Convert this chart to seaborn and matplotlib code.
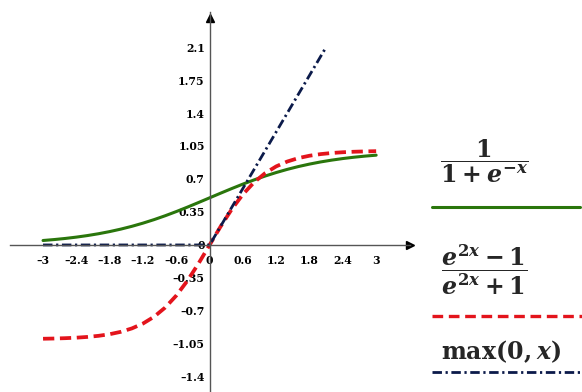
import numpy as np
import pandas as pd
import matplotlib.pyplot as plt
import seaborn as sns
from matplotlib.lines import Line2D

# values (step 0.2 on x)
x_vals = [-3.0, -2.8, -2.6, -2.4, -2.2, -2.0, -1.8, -1.6, -1.4, -1.2, -1.0,
          -0.8, -0.6, -0.4, -0.2, 0.0, 0.2, 0.4, 0.6, 0.8, 1.0,
          1.2, 1.4, 1.6, 1.8, 2.0, 2.2, 2.4, 2.6, 2.8, 3.0]
sigmoid_vals = [0.0474, 0.0573, 0.0691, 0.0832, 0.0998, 0.1192, 0.1419, 0.1680,
                0.1978, 0.2315, 0.2689, 0.3100, 0.3543, 0.4013, 0.4502, 0.5,
                0.5498, 0.5987, 0.6457, 0.6900, 0.7311, 0.7685, 0.8022, 0.8320,
                0.8581, 0.8808, 0.9002, 0.9168, 0.9309, 0.9427, 0.9526]
tanh_vals = [-0.9951, -0.9926, -0.9890, -0.9837, -0.9757, -0.9640, -0.9468, -0.9217,
             -0.8854, -0.8337, -0.7616, -0.6640, -0.5370, -0.3799, -0.1974, 0.0,
             0.1974, 0.3799, 0.5370, 0.6640, 0.7616, 0.8337, 0.8854, 0.9217,
             0.9468, 0.9640, 0.9757, 0.9837, 0.9890, 0.9926, 0.9951]
relu_x = [-3.0, 0.0, 2.1]
relu_y = [0.0, 0.0, 2.1]

x_ticks = [-3, -2.4, -1.8, -1.2, -0.6, 0, 0.6, 1.2, 1.8, 2.4, 3]
x_ticklabels = ["-3", "-2.4", "-1.8", "-1.2", "-0.6", "0", "0.6", "1.2", "1.8", "2.4", "3"]
y_ticks = [-1.4, -1.05, -0.7, -0.35, 0, 0.35, 0.7, 1.05, 1.4, 1.75, 2.1]
y_ticklabels = ["-1.4", "-1.05", "-0.7", "-0.35", "0", "0.35", "0.7", "1.05", "1.4", "1.75", "2.1"]

green = "#2a760c"
red = "#e3141c"
navy = "#0b1a4a"

sns.set_style("white")
plt.rcParams["font.family"] = ["DejaVu Serif"]
plt.rcParams["font.weight"] = "bold"
plt.rcParams["mathtext.fontset"] = "custom"
plt.rcParams["mathtext.rm"] = "DejaVu Serif:bold"
plt.rcParams["mathtext.it"] = "DejaVu Serif:italic:bold"
plt.rcParams["mathtext.bf"] = "DejaVu Serif:bold"

df = pd.DataFrame({"x": x_vals, "sigmoid": sigmoid_vals, "tanh": tanh_vals})
df_relu = pd.DataFrame({"x": relu_x, "relu": relu_y})

fig = plt.figure(figsize=(5.82, 3.92), dpi=100)
ax = fig.add_axes([0.0172, 0.0, 0.6873, 0.969])

sns.lineplot(ax=ax, data=df, x="x", y="sigmoid", color=green, lw=2.2)
sns.lineplot(ax=ax, data=df, x="x", y="tanh", color=red, lw=2.7)
ax.lines[-1].set_dashes([3.0, 1.5])
sns.lineplot(ax=ax, data=df_relu, x="x", y="relu", color=navy, lw=2.0)
ax.lines[-1].set_dashes([3.4, 1.3, 0.8, 1.3])

ax.set_xlim(-3.595, 3.61)
ax.set_ylim(-1.56, 2.47)
ax.set(xlabel="", ylabel="")

for s in ["top", "right"]:
    ax.spines[s].set_visible(False)
for s in ["left", "bottom"]:
    ax.spines[s].set_position(("data", 0))
    ax.spines[s].set_color("#555555")
    ax.spines[s].set_linewidth(1.0)

# arrow heads on the axes
ax.plot(1, 0, ">", color="black", ms=6, transform=ax.get_yaxis_transform(), clip_on=False)
ax.plot(0, 0.985, "^", color="black", ms=6, transform=ax.get_xaxis_transform(), clip_on=False)

ax.set_xticks(x_ticks)
ax.set_xticklabels([t.replace("-", "\u2013") for t in x_ticklabels])
ax.set_yticks(y_ticks)
ax.set_yticklabels([t.replace("-", "\u2013") for t in y_ticklabels])
ax.tick_params(axis="both", direction="inout", length=5, width=0.8, color="#555555",
               labelsize=7.8, labelcolor="black")
ax.tick_params(axis="x", pad=5)
ax.tick_params(axis="y", pad=1)
for lab in ax.get_xticklabels() + ax.get_yticklabels():
    lab.set_fontweight("bold")

# legend on the right
fig.text(0.832, 0.59, r"$\dfrac{1}{1+e^{-x}}$", fontsize=17, ha="center", va="center")
fig.add_artist(Line2D([0.742, 0.997], [0.472, 0.472], color=green, lw=2.2))
fig.text(0.832, 0.312, r"$\dfrac{e^{2x}-1}{e^{2x}+1}$", fontsize=17, ha="center", va="center")
fig.add_artist(Line2D([0.742, 1.0], [0.194, 0.194], color=red, lw=2.4, dashes=[3.2, 1.7]))
fig.text(0.758, 0.102, r"$\mathrm{max}(0,x)$", fontsize=17, ha="left", va="center")
fig.add_artist(Line2D([0.742, 1.0], [0.051, 0.051], color=navy, lw=2.0, dashes=[3.4, 1.3, 0.8, 1.3]))

fig.savefig("out.png", dpi=100)
